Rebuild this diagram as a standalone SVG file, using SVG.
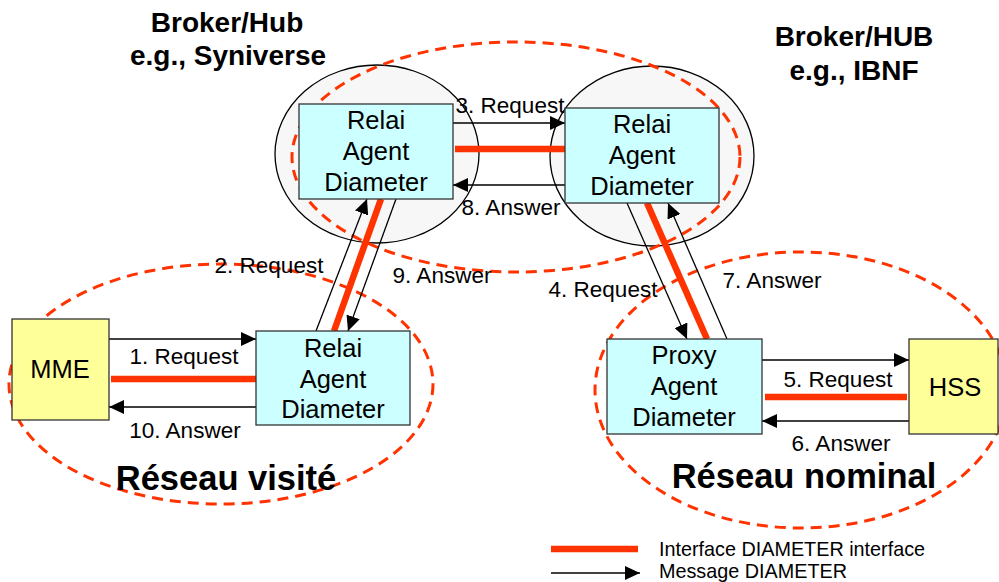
<svg xmlns="http://www.w3.org/2000/svg" width="999" height="582" viewBox="0 0 999 582">
<style>
text{font-family:"Liberation Sans",Arial,sans-serif;fill:#000}
.hub{fill:#f7f7f7;stroke:#000;stroke-width:1.3}
.zone{fill:none;stroke:#ff3300;stroke-width:3;stroke-dasharray:11 7}
.agent{fill:#ccffff;stroke:#333;stroke-width:1.3}
.ext{fill:#ffff99;stroke:#333;stroke-width:1.3}
.iface{stroke:#ff3300;stroke-width:6.5;fill:none}
.msg{stroke:#000;stroke-width:1.3;fill:none;marker-end:url(#ah)}
.nt{font-size:25.5px;text-anchor:middle}
.lbl{font-size:22.5px;text-anchor:middle}
.ttl{font-size:28px;font-weight:bold;text-anchor:middle}
.net{font-size:34.5px;font-weight:bold;text-anchor:middle}
.leg{font-size:19.8px}
</style>
<defs>
<marker id="ah" markerUnits="userSpaceOnUse" markerWidth="16" markerHeight="14" refX="15" refY="7" orient="auto">
<path d="M0,0 L15,7 L0,14 z" fill="#000"/>
</marker>
</defs>

<g id="hubs">
<ellipse class="hub" cx="377" cy="154" rx="102" ry="89"/>
<ellipse class="hub" cx="652" cy="156" rx="102" ry="90"/>
</g>

<g id="zones">
<ellipse class="zone" cx="516" cy="157" rx="224" ry="115"/>
<ellipse class="zone" cx="221" cy="384" rx="212" ry="120"/>
<ellipse class="zone" cx="801" cy="390" rx="206" ry="138"/>
</g>

<g id="connectors">
<line class="iface" x1="455" y1="149" x2="565" y2="149"/>
<line class="msg" x1="453" y1="123" x2="565" y2="123"/>
<line class="msg" x1="565" y1="185" x2="453" y2="185"/>
<line class="iface" x1="381" y1="199" x2="334" y2="331"/>
<line class="msg" x1="316" y1="331" x2="367" y2="199"/>
<line class="msg" x1="396" y1="199" x2="348" y2="331"/>
<line class="iface" x1="647" y1="203" x2="707" y2="339"/>
<line class="msg" x1="627" y1="203" x2="687" y2="339"/>
<line class="msg" x1="727" y1="339" x2="668" y2="203"/>
<line class="iface" x1="111" y1="379" x2="256" y2="379"/>
<line class="msg" x1="109" y1="339" x2="256" y2="339"/>
<line class="msg" x1="256" y1="407" x2="109" y2="407"/>
<line class="iface" x1="765" y1="397" x2="907" y2="397"/>
<line class="msg" x1="762" y1="360" x2="909" y2="360"/>
<line class="msg" x1="909" y1="421" x2="762" y2="421"/>
</g>

<g id="labels">
<text class="lbl" x="510" y="113">3. Request</text>
<text class="lbl" x="511" y="215">8. Answer</text>
<text class="lbl" x="269" y="273">2. Request</text>
<text class="lbl" x="442" y="283">9. Answer</text>
<text class="lbl" x="603" y="297">4. Request</text>
<text class="lbl" x="772" y="288">7. Answer</text>
<text class="lbl" x="184" y="364">1. Request</text>
<text class="lbl" x="185" y="438">10. Answer</text>
<text class="lbl" x="838" y="387">5. Request</text>
<text class="lbl" x="841" y="451">6. Answer</text>
</g>

<g id="relai-hub1">
<rect class="agent" x="299" y="104" width="154" height="95"/>
<text class="nt" x="376" y="129">Relai</text>
<text class="nt" x="376" y="160">Agent</text>
<text class="nt" x="376" y="191">Diameter</text>
</g>
<g id="relai-hub2">
<rect class="agent" x="565" y="108" width="154" height="95"/>
<text class="nt" x="642" y="133">Relai</text>
<text class="nt" x="642" y="164">Agent</text>
<text class="nt" x="642" y="195">Diameter</text>
</g>
<g id="relai-visite">
<rect class="agent" x="256" y="331" width="154" height="94"/>
<text class="nt" x="333" y="357">Relai</text>
<text class="nt" x="333" y="388">Agent</text>
<text class="nt" x="333" y="418">Diameter</text>
</g>
<g id="proxy">
<rect class="agent" x="607" y="339" width="155" height="95"/>
<text class="nt" x="684" y="364">Proxy</text>
<text class="nt" x="684" y="395">Agent</text>
<text class="nt" x="684" y="426">Diameter</text>
</g>
<g id="mme">
<rect class="ext" x="12" y="319" width="97" height="101"/>
<text class="nt" x="60" y="378">MME</text>
</g>
<g id="hss">
<rect class="ext" x="909" y="339" width="89" height="95"/>
<text class="nt" x="955" y="396">HSS</text>
</g>

<g id="titles">
<text class="ttl" x="227" y="32">Broker/Hub</text>
<text class="ttl" x="228" y="65">e.g., Syniverse</text>
<text class="ttl" x="854" y="46">Broker/HUB</text>
<text class="ttl" x="854" y="80">e.g., IBNF</text>
<text class="net" x="226" y="490">Réseau visité</text>
<text class="net" x="804" y="488">Réseau nominal</text>
</g>

<g id="legend">
<line class="iface" x1="551" y1="549" x2="638" y2="549"/>
<line class="msg" x1="551" y1="573" x2="640" y2="573"/>
<text class="leg" x="659" y="556">Interface DIAMETER interface</text>
<text class="leg" x="659" y="578">Message DIAMETER</text>
</g>
</svg>
